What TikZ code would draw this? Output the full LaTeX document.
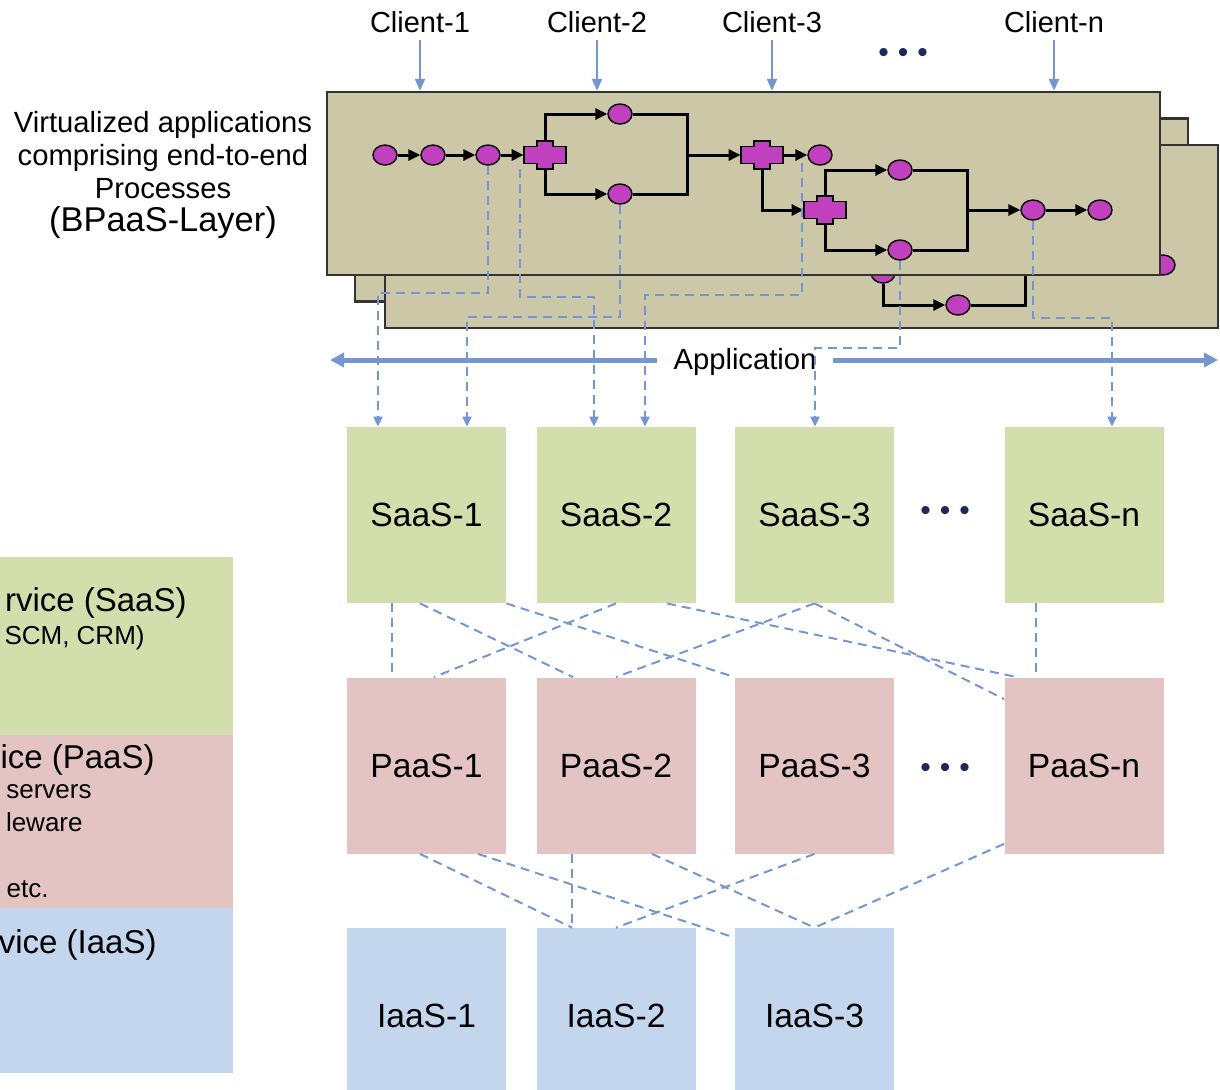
\documentclass[tikz,border=0pt]{standalone}
\usepackage{fontspec}
\setmainfont{Liberation Sans}
\usetikzlibrary{arrows.meta,shapes.geometric}
\definecolor{bpfill}{RGB}{204,199,166}
\definecolor{actfill}{RGB}{192,64,192}
\definecolor{linkblue}{RGB}{118,150,210}
\definecolor{saasfill}{RGB}{211,222,173}
\definecolor{paasfill}{RGB}{228,196,194}
\definecolor{iaasfill}{RGB}{196,214,238}
\definecolor{dotblue}{RGB}{30,40,90}

\begin{document}
\begin{tikzpicture}[x=0.5pt, y=-0.5pt,
    bp/.style = {draw=black!80, line width=1.2pt, fill=bpfill, minimum width=416.5pt, minimum height=91.5pt, inner sep=0pt},
    act/.style = {ellipse, draw=black, line width=0.7pt, fill=actfill, minimum width=12pt, minimum height=10pt, inner sep=0pt},
    gatebox/.style = {minimum width=21pt, minimum height=14pt, inner sep=0pt},
    plus/.pic = {\path[draw=black, line width=0.7pt, fill=actfill] (-21,-8.5) -- (-8,-8.5) -- (-8,-14) -- (8,-14) -- (8,-8.5) -- (21,-8.5) -- (21,8.5) -- (8,8.5) -- (8,14) -- (-8,14) -- (-8,8.5) -- (-21,8.5) -- cycle;},
    flow/.style = {line width=1.5pt, -{Triangle[length=6pt,width=5.5pt]}},
    xlink/.style = {linkblue, line width=1pt, dash pattern=on 4.5pt off 3pt},
    drop/.style = {xlink, -{Triangle[length=5pt,width=4.5pt]}},
    carrow/.style = {linkblue, line width=1.1pt, -{Triangle[length=6pt,width=5pt]}},
    bar/.style = {linkblue, line width=2.5pt, -{Triangle[length=7pt,width=7pt]}},
    svc/.style = {minimum width=79.5pt, minimum height=88pt, inner sep=0pt, font=\fontsize{16.8}{20}\selectfont},
    lbl/.style = {anchor=base east, inner sep=0pt}]
    \useasboundingbox (0,0) rectangle (1220,1089);
    \begin{scope}
    \clip (0,0) rectangle (1220,1089);

    % clients
    \foreach \i/\x in {1/420, 2/597, 3/772, n/1054}
        \node[font=\fontsize{14.5}{16}\selectfont] (cl\i) at (\x,22) {Client-\i};
    \node[dotblue, font=\fontsize{15}{16}\selectfont] (dots1) at (903,55) {\textbullet\hspace{4.5pt}\textbullet\hspace{4.5pt}\textbullet};

    \node[align=center, font=\fontsize{14.6}{16.5}\selectfont] (desc) at (163,175) {Virtualized applications\\comprising end-to-end\\Processes\\{\fontsize{17.2}{16.5}\selectfont (BPaaS-Layer)}};

    % process layers
    \node[bp] (bpB) at (771.5,210) {};
    \node[bp] (bpC) at (801.5,236.5) {};
    \node[act] (e1) at (883,273) {};
    \node[act] (d1) at (958,305) {};
    \node[act] (e2) at (1163,265) {};
    \coordinate (j3) at (1025,270);
    \draw[flow] (e1.south) |- (d1);
    \draw[line width=1.5pt] (d1) -| (j3);
    \node[bp] (bpA) at (743.5,183.5) {};

    \foreach \c in {cl1, cl2, cl3, cln}
        \draw[carrow] (\c.south) -- (\c.south |- bpA.north);

    % activities
    \node[act] (a1) at (385,155) {};
    \node[act] (a2) at (433,155) {};
    \node[act] (a3) at (488,155) {};
    \node[act] (b1) at (620,114) {};
    \node[act] (b2) at (620,194) {};
    \node[act] (a4) at (820,155) {};
    \node[act] (c1) at (900,170) {};
    \node[act] (c2) at (900,250) {};
    \node[act] (a5) at (1033,210) {};
    \node[act] (a6) at (1100,210) {};
    \coordinate (j1) at (687,155);
    \coordinate (j2) at (967,210);
    \foreach \n/\p in {g1/{545,155}, g2/{762,155}, g3/{825,210}} {
        \node[gatebox] (\n) at (\p) {};
        \pic at (\n) {plus};
    }

    \draw[flow] (a1) -- (a2);
    \draw[flow] (a2) -- (a3);
    \draw[flow] (a3) -- (g1.west);
    \draw[flow] (g1.north) |- (b1);
    \draw[flow] (g1.south) |- (b2);
    \draw[line width=1.5pt] (b1) -| (j1) |- (b2);
    \draw[flow] (j1) -- (g2.west);
    \draw[flow] (g2.east) -- (a4);
    \draw[flow] (g2.south) |- (g3.west);
    \draw[flow] (g3.north) |- (c1);
    \draw[flow] (g3.south) |- (c2);
    \draw[line width=1.5pt] (c1) -| (j2) |- (c2);
    \draw[flow] (j2) -- (a5);
    \draw[flow] (a5) -- (a6);

    % application bar
    \node[inner xsep=8pt, font=\fontsize{14.6}{16}\selectfont] (app) at (745,362) {Application};
    \coordinate (appL) at (330,360);
    \coordinate (appR) at (1218,360);
    \draw[bar] (app.west |- appL) -- (appL);
    \draw[bar] (app.east |- appR) -- (appR);

    % left panel
    \fill[saasfill] (0,557) rectangle (233,735);
    \fill[paasfill] (0,735) rectangle (233,908);
    \fill[iaasfill] (0,908) rectangle (233,1073);
    \node[lbl, font=\fontsize{16.5}{18}\selectfont] (ls1) at (187,611) {rvice (SaaS)};
    \node[lbl, font=\fontsize{13}{15}\selectfont] (ls2) at (145,644) {SCM, CRM)};
    \node[lbl, font=\fontsize{16.5}{18}\selectfont] (lp1) at (155,768) {ice (PaaS)};
    \node[lbl, font=\fontsize{13}{15}\selectfont] (lp2) at (92,798) {servers};
    \node[lbl, font=\fontsize{13}{15}\selectfont] (lp3) at (83,831) {leware};
    \node[lbl, font=\fontsize{13}{15}\selectfont] (lp4) at (49,897) {etc.};
    \node[lbl, font=\fontsize{16.5}{18}\selectfont] (li1) at (157,953) {vice (IaaS)};

    % service boxes
    \foreach \i/\x in {1/426.5, 2/616, 3/814.5, n/1084} {
        \node[svc, fill=saasfill] (s\i) at (\x,515) {SaaS-\i};
        \node[svc, fill=paasfill] (p\i) at (\x,765.5) {PaaS-\i};
    }
    \foreach \i/\x in {1/426.5, 2/616, 3/814.5}
        \node[svc, fill=iaasfill] (i\i) at (\x,1016) {IaaS-\i};
    \node[dotblue, font=\fontsize{15}{16}\selectfont] (dots2) at (945,513) {\textbullet\hspace{4.5pt}\textbullet\hspace{4.5pt}\textbullet};
    \node[dotblue, font=\fontsize{15}{16}\selectfont] (dots3) at (945,770) {\textbullet\hspace{4.5pt}\textbullet\hspace{4.5pt}\textbullet};

    % process to SaaS
    \coordinate (k1) at (378,293);
    \coordinate (k2) at (594,297);
    \coordinate (k3) at (467,317);
    \coordinate (k4) at (645,295);
    \coordinate (k5) at (815,348);
    \coordinate (k6) at (1112,318);
    \draw[drop] (a3.south) |- (k1) -- (k1 |- s1.north);
    \draw[drop] ([xshift=-2pt]g1.south west) |- (k2) -- (k2 |- s2.north);
    \draw[drop] (b2.south) |- (k3) -- (k3 |- s1.north);
    \draw[drop] ([xshift=-4.5pt]a4.south west) |- (k4) -- (k4 |- s2.north);
    \draw[drop] (c2.south) |- (k5) -- (k5 |- s3.north);
    \draw[drop] (a5.south) |- (k6) -- (k6 |- sn.north);

    % SaaS to PaaS
    \draw[xlink] ([xshift=-17.25pt]s1.south) -- ([xshift=-17.25pt]p1.north);
    \draw[xlink] ([xshift=-3.25pt]s1.south) -- ([xshift=-21.5pt]p2.north);
    \draw[xlink] (s1.south east) -- (p3.north west);
    \draw[xlink] (s2.south) -- ([xshift=3.75pt]p1.north);
    \draw[xlink] ([xshift=25.5pt]s2.south) -- ([xshift=-33.5pt]pn.north);
    \draw[xlink] (s3.south) -- (p2.north);
    \draw[xlink] (s3.south) -- ([yshift=-11pt]pn.north west);
    \draw[xlink] ([xshift=-24pt]sn.south) -- ([xshift=-24pt]pn.north);

    % PaaS to IaaS
    \draw[xlink] ([xshift=-3.25pt]p1.south) -- ([xshift=-22pt]i2.north);
    \draw[xlink] ([xshift=25.75pt]p1.south) -- ([yshift=-5pt]i3.north west);
    \draw[xlink] ([xshift=-22pt]p2.south) -- ([xshift=-22pt]i2.north);
    \draw[xlink] ([xshift=18pt]p2.south) -- (i3.north);
    \draw[xlink] (p3.south) -- (i2.north);
    \draw[xlink] ([yshift=5pt]pn.south west) -- (i3.north);
    \end{scope}
\end{tikzpicture}
\end{document}
